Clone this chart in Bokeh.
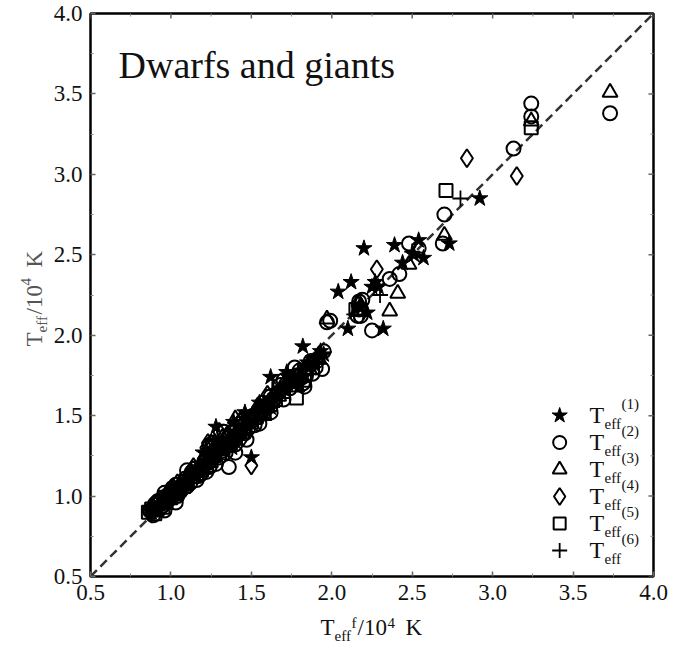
import math
from bokeh.plotting import figure
from bokeh.layouts import row, column
from bokeh.models import Label, Range1d, FixedTicker, PrintfTickFormatter
from bokeh.embed import file_html
from bokeh.resources import INLINE

FONT = "Liberation Serif"

# ---------------- data ----------------
# T_eff^(1) : stars
s1_x = [0.88, 0.92, 0.95, 0.98, 1.02, 1.05, 1.08, 1.12, 1.15, 1.18, 1.21, 1.24, 1.26, 1.28,
        1.30, 1.33, 1.36, 1.39, 1.41, 1.45, 1.48, 1.50, 1.53, 1.57, 1.62, 1.60, 1.65, 1.70,
        1.75, 1.79, 1.82, 1.86, 1.90, 1.95, 2.10, 2.04, 2.12, 2.20, 2.25, 2.29, 2.32, 2.22,
        2.39, 2.44, 2.54, 2.57, 2.51, 2.73, 2.92,
        0.90, 0.97, 1.00, 1.07, 1.11, 1.17, 1.23, 1.31, 1.35, 1.43, 1.52, 1.58, 1.67, 1.73,
        1.85, 1.93, 2.18, 2.27,
        1.20, 1.27, 1.38, 1.46, 1.55, 1.62, 1.72, 1.80]
s1_y = [0.90, 0.93, 0.97, 0.96, 1.04, 1.03, 1.10, 1.12, 1.13, 1.20, 1.19, 1.26, 1.22, 1.43,
        1.30, 1.28, 1.35, 1.46, 1.38, 1.42, 1.47, 1.24, 1.50, 1.53, 1.74, 1.58, 1.62, 1.68,
        1.70, 1.72, 1.93, 1.80, 1.86, 1.88, 2.04, 2.27, 2.33, 2.54, 2.30, 2.30, 2.04, 2.14,
        2.56, 2.45, 2.59, 2.48, 2.50, 2.57, 2.85,
        0.92, 0.99, 1.01, 1.06, 1.09, 1.16, 1.21, 1.33, 1.31, 1.40, 1.46, 1.57, 1.65, 1.74,
        1.83, 1.90, 2.18, 2.33,
        1.27, 1.34, 1.30, 1.52, 1.58, 1.55, 1.77, 1.69]

# T_eff^(2) : circles
s2_x = [0.87, 0.90, 0.93, 0.96, 0.99, 1.01, 1.04, 1.07, 1.10, 1.13, 1.16, 1.19, 1.22, 1.25,
        1.28, 1.31, 1.34, 1.36, 1.37, 1.40, 1.43, 1.46, 1.49, 1.52, 1.55, 1.58, 1.62, 1.66,
        1.70, 1.74, 1.78, 1.82, 1.85, 1.88, 1.91, 1.94, 1.97, 2.17, 2.17, 2.18, 2.25, 2.36,
        2.42, 2.48, 2.54, 2.69, 2.70, 3.13, 3.24, 3.24, 3.73,
        0.89, 0.92, 0.95, 0.97, 1.00, 1.03, 1.06, 1.09, 1.12, 1.15, 1.18, 1.21, 1.24, 1.27,
        1.30, 1.33, 1.39, 1.42, 1.45, 1.48, 1.51, 1.54, 1.57, 1.60, 1.64, 1.68, 1.72, 1.76,
        1.80, 1.84, 1.87, 1.90, 1.95, 1.99, 2.19, 2.16,
        1.26, 1.33, 1.40, 1.47, 1.55, 1.62, 1.70, 1.77, 1.83, 1.10, 1.03, 0.96]
s2_y = [0.91, 0.95, 0.92, 1.02, 0.98, 1.05, 1.00, 1.07, 1.06, 1.15, 1.10, 1.17, 1.15, 1.24,
        1.20, 1.33, 1.27, 1.18, 1.37, 1.32, 1.45, 1.39, 1.48, 1.44, 1.53, 1.56, 1.52, 1.64,
        1.72, 1.67, 1.75, 1.70, 1.80, 1.76, 1.84, 1.79, 2.08, 2.16, 2.21, 2.12, 2.03, 2.35,
        2.38, 2.57, 2.54, 2.57, 2.75, 3.16, 3.44, 3.36, 3.38,
        0.88, 0.97, 0.94, 1.00, 1.03, 1.07, 1.03, 1.11, 1.08, 1.17, 1.13, 1.22, 1.18, 1.28,
        1.24, 1.30, 1.36, 1.38, 1.47, 1.42, 1.50, 1.49, 1.58, 1.55, 1.60, 1.69, 1.70, 1.72,
        1.78, 1.75, 1.84, 1.80, 1.90, 2.09, 2.22, 2.12,
        1.33, 1.40, 1.27, 1.35, 1.45, 1.62, 1.60, 1.80, 1.68, 1.16, 0.96, 0.91]

# T_eff^(3) : triangles
s3_x = [0.89, 0.94, 1.00, 1.06, 1.11, 1.17, 1.23, 1.29, 1.35, 1.42, 1.47, 1.56, 1.63, 1.72,
        1.80, 1.87, 1.97, 2.18, 2.36, 2.41, 2.48, 2.70, 3.24, 3.73,
        0.91, 0.97, 1.03, 1.09, 1.14, 1.20, 1.26, 1.32, 1.38, 1.45, 1.52, 1.60, 1.67, 1.76,
        1.84, 1.92, 2.17,
        1.25, 1.40, 1.58]
s3_y = [0.93, 0.95, 1.02, 1.05, 1.13, 1.16, 1.21, 1.31, 1.33, 1.40, 1.45, 1.51, 1.58, 1.70,
        1.74, 1.82, 2.10, 2.18, 2.15, 2.26, 2.44, 2.62, 3.33, 3.51,
        0.90, 0.98, 1.00, 1.08, 1.11, 1.19, 1.24, 1.28, 1.36, 1.42, 1.49, 1.55, 1.62, 1.72,
        1.78, 1.85, 2.20,
        1.33, 1.48, 1.50]

# T_eff^(4) : diamonds
s4_x = [0.88, 0.93, 0.98, 1.04, 1.09, 1.14, 1.20, 1.23, 1.25, 1.32, 1.38, 1.44, 1.50, 1.54,
        1.60, 1.68, 1.76, 1.84, 1.92, 2.28, 2.84, 3.15,
        0.90, 0.95, 1.01, 1.06, 1.12, 1.17, 1.28, 1.35, 1.41, 1.47, 1.57, 1.64, 1.72, 1.80,
        1.88, 2.16,
        1.22, 1.30, 1.45, 1.60]
s4_y = [0.92, 0.98, 1.01, 1.08, 1.07, 1.18, 1.22, 1.33, 1.30, 1.36, 1.41, 1.48, 1.19, 1.55,
        1.57, 1.66, 1.73, 1.78, 1.87, 2.41, 3.10, 2.99,
        0.95, 0.97, 1.05, 1.03, 1.14, 1.15, 1.26, 1.38, 1.37, 1.45, 1.53, 1.62, 1.69, 1.76,
        1.82, 2.19,
        1.30, 1.40, 1.37, 1.63]

# T_eff^(5) : squares
s5_x = [0.86, 0.90, 0.95, 1.00, 1.05, 1.10, 1.16, 1.22, 1.27, 1.33, 1.40, 1.46, 1.53, 1.58,
        1.65, 1.78, 1.83, 2.71, 3.24,
        0.88, 0.92, 0.97, 1.02, 1.08, 1.13, 1.19, 1.25, 1.30, 1.37, 1.43, 1.50, 1.62, 1.70,
        1.88, 2.15]
s5_y = [0.90, 0.89, 0.93, 0.99, 1.05, 1.09, 1.14, 1.19, 1.25, 1.31, 1.36, 1.43, 1.49, 1.52,
        1.60, 1.61, 1.72, 2.90, 3.29,
        0.92, 0.95, 0.96, 1.02, 1.06, 1.12, 1.16, 1.22, 1.28, 1.33, 1.40, 1.46, 1.57, 1.65,
        1.80, 2.16]

# T_eff^(6) : plus signs
s6_x = [0.88, 0.94, 1.01, 1.07, 1.14, 1.20, 1.27, 1.34, 1.41, 1.49, 1.56, 1.63, 1.71, 1.79,
        1.88, 2.14, 2.30, 2.50, 2.80,
        0.91, 0.97, 1.04, 1.10, 1.17, 1.24, 1.30, 1.37, 1.45, 1.52, 1.60, 1.67, 1.75, 1.84,
        1.92]
s6_y = [0.88, 0.94, 1.00, 1.04, 1.12, 1.18, 1.27, 1.30, 1.40, 1.46, 1.55, 1.66, 1.66, 1.78,
        1.83, 2.13, 2.25, 2.52, 2.85,
        0.92, 0.97, 1.05, 1.10, 1.14, 1.22, 1.31, 1.35, 1.43, 1.51, 1.56, 1.64, 1.72, 1.80,
        1.88]

diag = [0.5, 4.0]
major_ticks = [0.5, 1.0, 1.5, 2.0, 2.5, 3.0, 3.5, 4.0]
minor_ticks = [0.75, 1.25, 1.75, 2.25, 2.75, 3.25, 3.75]
legend_numbers = ["(1)", "(2)", "(3)", "(4)", "(5)", "(6)"]

# ---------------- layout geometry ----------------
W, H = 690, 648
YLAB_W = 50          # column holding the rotated y label
XLAB_H = 36          # strip holding the x label
PW, PH = W - YLAB_W, H - XLAB_H
ML, MR, MT, MB = 39, 37, 13, 36
FW, FH = PW - ML - MR, PH - MT - MB

p = figure(width=PW, height=PH, x_range=Range1d(0.5, 4.0), y_range=Range1d(0.5, 4.0),
           output_backend="svg", toolbar_location=None, title=None,
           min_border_left=ML, min_border_right=MR, min_border_top=MT, min_border_bottom=MB)
p.grid.visible = False
p.outline_line_color = "black"
p.outline_line_width = 2.5


def style_axis(ax, standoff):
    ax.ticker = FixedTicker(ticks=major_ticks, minor_ticks=minor_ticks)
    ax.formatter = PrintfTickFormatter(format="%.1f")
    ax.axis_line_color = None
    ax.major_tick_in = 5
    ax.major_tick_out = 0
    ax.minor_tick_in = 3
    ax.minor_tick_out = 0
    ax.major_tick_line_color = "#666"
    ax.minor_tick_line_color = "#888"
    ax.major_tick_line_width = 1.5
    ax.major_label_text_font = FONT
    ax.major_label_text_font_size = "23px"
    ax.major_label_text_color = "#111"
    ax.major_label_standoff = standoff


style_axis(p.xaxis[0], 8)
style_axis(p.yaxis[0], 8)

# inward ticks on the top and right edges (short dashes, half clipped by the frame)
top_y = [4.0] * len(major_ticks)
p.scatter(major_ticks, top_y, marker="dash", angle=math.pi / 2, size=10,
          line_color="#666", line_width=1.5)
p.scatter(minor_ticks, [4.0] * len(minor_ticks), marker="dash", angle=math.pi / 2, size=6,
          line_color="#888", line_width=1)
p.scatter(top_y, major_ticks, marker="dash", size=10, line_color="#666", line_width=1.5)
p.scatter([4.0] * len(minor_ticks), minor_ticks, marker="dash", size=6,
          line_color="#888", line_width=1)

# diagonal
p.line(diag, diag, line_color="#333", line_width=2.5, line_dash="9 5")

# data series
lw = 2.0
markers = [("star", 17, "black", 1.0), ("circle", 14, None, lw), ("triangle", 15, None, lw),
           ("diamond", 18, None, lw), ("square", 13, None, lw), ("cross", 16, None, 1.8)]
series = [(s1_x, s1_y), (s2_x, s2_y), (s3_x, s3_y), (s4_x, s4_y), (s5_x, s5_y), (s6_x, s6_y)]
for (sx, sy), (mk, sz, fc, w) in zip(series, markers):
    p.scatter(sx, sy, marker=mk, size=sz, fill_color=fc, line_color="black", line_width=w)


def lab(fig, x, y, text, size, color="#111", angle=0.0):
    """x, y: centre line of the text (text_baseline='middle'), screen px from frame corner."""
    fig.add_layout(Label(x=x, y=y, x_units="screen", y_units="screen", text=text,
                         text_font=FONT, text_font_size=f"{size}px", text_color=color,
                         text_align="left", text_baseline="middle", angle=angle))


# title  (baseline at canvas y=77)
lab(p, 28, 512, "Dwarfs and giants", 38, "#111")

# legend (manual, for sub/superscripts)
sx_to_d = 3.5 / FW
sy_to_d = 3.5 / FH
for i, (mk, sz, fc, w) in enumerate(markers):
    my = 161 - 27 * i
    p.scatter([0.5 + 470 * sx_to_d], [0.5 + my * sy_to_d], marker=mk, size=sz - 1,
              fill_color=fc, line_color="black", line_width=w)
    lab(p, 499, my + 1, "T", 24)
    lab(p, 514, my - 8, "eff", 15)
    lab(p, 531, my + 12, legend_numbers[i], 15)


def blank_fig(w, h):
    f = figure(width=w, height=h, x_range=Range1d(0, w), y_range=Range1d(0, h),
               output_backend="svg", toolbar_location=None, title=None,
               x_axis_location=None, y_axis_location=None,
               min_border=0, min_border_left=0, min_border_right=0,
               min_border_top=0, min_border_bottom=0)
    f.grid.visible = False
    f.outline_line_color = None
    return f


# y-axis label (rotated):  T_eff / 10^4  K
# (in a row the label plot's frame is aligned with the main frame, so y is measured
#  from the main frame's bottom edge)
ylab = blank_fig(YLAB_W, PH)
yc = "#555"
a = math.pi / 2
lab(ylab, 34, 230, "T", 23, yc, a)
lab(ylab, 41, 244, "eff", 15, yc, a)
lab(ylab, 34, 262, "/10", 23, yc, a)
lab(ylab, 25, 291, "4", 15, yc, a)
lab(ylab, 34, 309, "K", 23, yc, a)

# x-axis label:  T_eff^f / 10^4  K
xlab = blank_fig(W, XLAB_H)
lab(xlab, 320, 21, "T", 23)
lab(xlab, 334, 13, "eff", 15)
lab(xlab, 351, 26, "f", 15)
lab(xlab, 357, 21, "/10", 23)
lab(xlab, 387, 26, "4", 15)
lab(xlab, 405, 21, "K", 23)

layout = column(row(ylab, p, spacing=0), xlab, spacing=0)
open("out.html", "w").write(file_html(layout, INLINE))
